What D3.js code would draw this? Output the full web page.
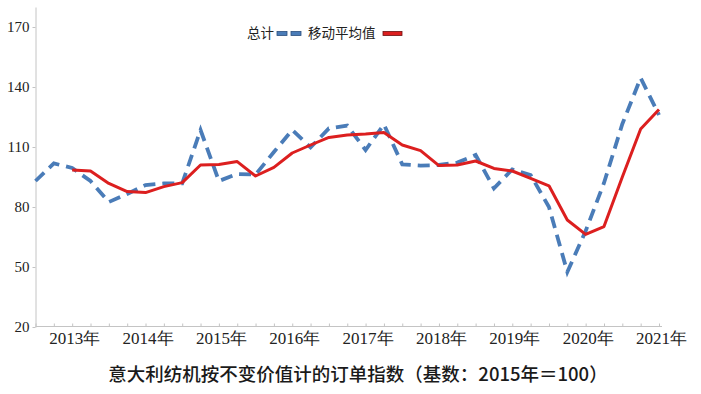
<!DOCTYPE html>
<html>
<head>
<meta charset="utf-8">
<script src="https://cdn.jsdelivr.net/npm/d3@7"></script>
<style>
  body { margin: 0; background: #fff; }
  svg { display: block; }
  .serif text { font-family: "Liberation Serif", "Times New Roman", Times, serif; }
</style>
</head>
<body>
<svg id="chart" width="701" height="394"></svg>
<script>
// 季度序号 0..34 (2012Q3 .. 2021Q1)
var total = [93, 101.8, 99.5, 93, 82.5, 86.5, 91, 91.8, 91.8, 118.5,
             93, 96.5, 96.2, 107.5, 118.5, 109.8, 119.3, 120.7, 108.5, 121.3,
             101.3, 100.7, 101, 102.2, 106, 89.3, 98.8, 96, 80, 47.5,
             68, 92, 121.5, 144.5, 126];
var movingAvg = [null, null, 98.5, 98, 91.8, 87.7, 87.2, 90.2, 92.2, 101,
                 101.3, 102.7, 95.5, 99.8, 107, 111, 114.8, 116, 116.5, 117.3,
                 111, 108.2, 100.7, 101, 103, 99.3, 98, 94.3, 90.6, 73.5,
                 66.3, 70.2, 95, 119, 128.8];
var yearLabels = ["2013年", "2014年", "2015年", "2016年", "2017年", "2018年", "2019年", "2020年", "2021年"];
var yearIdx = [2, 6, 10, 14, 18, 22, 26, 30, 34];
var yTicks = [20, 50, 80, 110, 140, 170];
var legendNames = ["总计", "移动平均值"];
var title = "意大利纺机按不变价值计的订单指数（基数：2015年＝100）";

var svg = d3.select("#chart");
var axisColor = "#c4c4c4";
var blue = "#4a7cb8";
var red = "#dc1f1f";

var x = d3.scaleLinear().domain([0, total.length - 1]).range([35.5, 659]);
var y = d3.scaleLinear().domain([20, 180]).range([327, 7]);

// y axis
var yAxis = svg.append("g")
    .attr("class", "serif")
    .attr("transform", "translate(35.5,0)")
    .call(d3.axisLeft(y).tickValues(yTicks).tickSize(3).tickSizeOuter(0).tickPadding(3));
yAxis.attr("font-family", null).attr("font-size", 15);
yAxis.select(".domain").attr("stroke", axisColor);
yAxis.selectAll(".tick line").attr("stroke", axisColor);
yAxis.selectAll(".tick text").attr("fill", "#222");

// x axis: quarterly ticks
var xAxis = svg.append("g")
    .attr("transform", "translate(0,326.5)")
    .call(d3.axisBottom(x).tickValues(d3.range(total.length)).tickSize(-3).tickSizeOuter(0).tickFormat(""));
xAxis.select(".domain").remove();
xAxis.selectAll(".tick line").attr("stroke", axisColor);
xAxis.append("line")
    .attr("x1", x(0)).attr("x2", x(total.length - 1) + 3)
    .attr("stroke", axisColor);

// year labels
var xLab = svg.append("g")
    .attr("class", "serif")
    .attr("transform", "translate(2,326.5)")
    .call(d3.axisBottom(x).tickValues(yearIdx).tickSize(0).tickPadding(5)
      .tickFormat(function(d, i){ return yearLabels[i]; }));
xLab.attr("font-family", null).attr("font-size", 17);
xLab.select(".domain").remove();
xLab.selectAll(".tick text").attr("fill", "#222");

// lines
var line = d3.line()
    .defined(function(d){ return d != null; })
    .x(function(d, i){ return x(i); })
    .y(function(d){ return y(d); });

svg.append("path")
    .datum(total)
    .attr("d", line)
    .attr("fill", "none")
    .attr("stroke", blue)
    .attr("stroke-width", 3.8)
    .attr("stroke-dasharray", "12,7");

svg.append("path")
    .datum(movingAvg)
    .attr("d", line)
    .attr("fill", "none")
    .attr("stroke", red)
    .attr("stroke-width", 3)
    .attr("stroke-linejoin", "round");

// legend
var lg = svg.append("g").style("font-family", "'Noto Sans CJK SC', sans-serif").style("font-size", "13.5px");
lg.append("text").attr("x", 247).attr("y", 38).attr("fill", "#222").text(legendNames[0]);
[277, 291].forEach(function(lx){
  lg.append("rect").attr("x", lx).attr("y", 31.5).attr("width", 10).attr("height", 4)
    .attr("fill", blue).attr("stroke", "#2b4f7e").attr("stroke-width", 0.8);
});
lg.append("text").attr("x", 308).attr("y", 38).attr("fill", "#222").text(legendNames[1]);
lg.append("rect").attr("x", 383).attr("y", 31.5).attr("width", 19).attr("height", 4)
  .attr("fill", red).attr("stroke", "#6e1010").attr("stroke-width", 0.8);

// title
svg.append("text")
    .attr("x", 358).attr("y", 381)
    .attr("text-anchor", "middle")
    .style("font-family", "'Noto Sans CJK SC', sans-serif")
    .style("font-size", "18.5px")
    .style("font-weight", 500)
    .attr("fill", "#1a1a1a")
    .text(title);
</script>
</body>
</html>
